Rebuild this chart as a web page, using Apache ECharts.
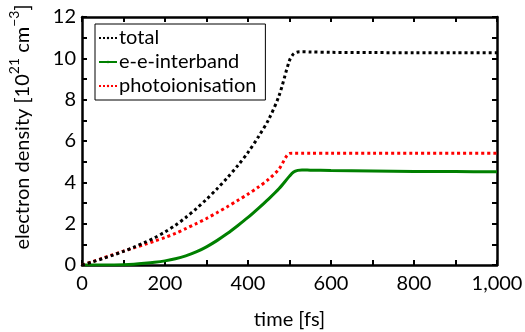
<!DOCTYPE html>
<html>
<head>
<meta charset="utf-8">
<script src="https://cdn.jsdelivr.net/npm/echarts@6/dist/echarts.min.js"></script>
<style>
  html, body { margin: 0; padding: 0; background: #fff; }
  #chart { width: 525px; height: 332px; }
</style>
</head>
<body>
<div id="chart"></div>
<script>
// Time samples in femtoseconds
const timeFs = [0, 25, 50, 75, 100, 125, 150, 175, 200, 225, 250, 275, 300, 325, 350, 375, 400, 425, 450, 475, 500, 510, 520, 530, 550, 600, 700, 800, 900, 1000];

// Electron densities in units of 1e21 cm^-3
const totalDensity = [0, 0.15, 0.31, 0.48, 0.66, 0.86, 1.08, 1.32, 1.6, 1.92, 2.3, 2.72, 3.18, 3.68, 4.22, 4.8, 5.45, 6.2, 7.05, 8.2, 9.9, 10.22, 10.31, 10.32, 10.31, 10.29, 10.28, 10.27, 10.27, 10.27];
const interbandDensity = [0, 0, 0, 0.005, 0.015, 0.04, 0.08, 0.13, 0.2, 0.3, 0.44, 0.63, 0.88, 1.18, 1.52, 1.9, 2.3, 2.74, 3.2, 3.7, 4.3, 4.5, 4.58, 4.6, 4.59, 4.57, 4.55, 4.53, 4.52, 4.51];
const photoDensity = [0, 0.16, 0.33, 0.5, 0.67, 0.83, 0.99, 1.16, 1.33, 1.53, 1.76, 2.0, 2.25, 2.53, 2.82, 3.12, 3.43, 3.77, 4.15, 4.65, 5.4, 5.41, 5.41, 5.41, 5.41, 5.41, 5.41, 5.41, 5.41, 5.41];

const seriesNames = ['total', 'e-e-interband', 'photoionisation'];
const xTicks = [0, 200, 400, 600, 800, 1000];
const yTicks = [0, 2, 4, 6, 8, 10, 12];

const FONT = 'Lato';
const FS = 20;
const pair = (ys) => timeFs.map((t, i) => [t, ys[i]]);

const frameAxis = {
  axisLine: { show: true, onZero: false, lineStyle: { color: '#000', width: 2.5 } },
  axisTick: { show: true, inside: true, length: 5, lineStyle: { color: '#000', width: 2 } },
  minorTick: { show: true, splitNumber: 2, length: 5, lineStyle: { color: '#000', width: 2 } },
  splitLine: { show: false },
  minorSplitLine: { show: false }
};

const chart = echarts.init(document.getElementById('chart'), null, { renderer: 'canvas' });

chart.setOption({
  animation: false,
  backgroundColor: '#fff',
  textStyle: { fontFamily: FONT },
  grid: { left: 82, right: 28, top: 17, bottom: 67, containLabel: false, outerBoundsMode: 'none' },
  legend: {
    data: seriesNames,
    orient: 'vertical',
    left: 95,
    top: 24,
    padding: [4, 9, 4, 3],
    itemGap: 4,
    itemWidth: 18,
    itemHeight: 3,
    borderColor: '#000',
    borderWidth: 1,
    borderRadius: 0,
    backgroundColor: '#fff',
    textStyle: { fontFamily: FONT, fontSize: FS, color: '#000', padding: [0, 0, 0, -3] }
  },
  xAxis: [
    Object.assign({}, frameAxis, {
      type: 'value', min: 0, max: 1000, interval: 200, position: 'bottom',
      axisLabel: { show: true, margin: 9, fontFamily: FONT, fontSize: FS, color: '#000',
        formatter: (v) => xTicks.includes(v) ? v.toLocaleString('en-US') : '' },
      name: 'time [fs]', nameLocation: 'middle', nameGap: 45,
      nameTextStyle: { fontFamily: FONT, fontSize: FS, color: '#000' }
    }),
    Object.assign({}, frameAxis, {
      type: 'value', min: 0, max: 1000, interval: 200, position: 'top',
      axisLabel: { show: false }
    })
  ],
  yAxis: [
    Object.assign({}, frameAxis, {
      type: 'value', min: 0, max: 12, interval: 2, position: 'left',
      axisLabel: { show: true, margin: 6, fontFamily: FONT, fontSize: FS, color: '#000',
        formatter: (v) => yTicks.includes(v) ? String(v) : '' }
    }),
    Object.assign({}, frameAxis, {
      type: 'value', min: 0, max: 12, interval: 2, position: 'right',
      axisLabel: { show: false }
    })
  ],
  graphic: [{
    type: 'text',
    x: 20,
    y: 127,
    rotation: Math.PI / 2,
    style: {
      text: '{n|electron density [10}{s|21}{n| cm}{s|−3}{n|]}',
      align: 'center',
      verticalAlign: 'middle',
      fill: '#000',
      rich: {
        n: { fontFamily: FONT, fontSize: FS, lineHeight: 26, verticalAlign: 'bottom', fill: '#000' },
        s: { fontFamily: FONT, fontSize: 14, lineHeight: 26, verticalAlign: 'top', fill: '#000' }
      }
    }
  }],
  series: [
    {
      name: 'total', type: 'line', xAxisIndex: 0, yAxisIndex: 0,
      data: pair(totalDensity), symbol: 'none', smooth: 0.3,
      lineStyle: { color: '#000', width: 3, type: 'dotted' },
      itemStyle: { color: '#000' }, z: 3
    },
    {
      name: 'e-e-interband', type: 'line', xAxisIndex: 0, yAxisIndex: 0,
      data: pair(interbandDensity), symbol: 'none', smooth: 0.3,
      lineStyle: { color: '#008000', width: 3, type: 'solid' },
      itemStyle: { color: '#008000' }, z: 2
    },
    {
      name: 'photoionisation', type: 'line', xAxisIndex: 0, yAxisIndex: 0,
      data: pair(photoDensity), symbol: 'none', smooth: 0.3,
      lineStyle: { color: '#ff0000', width: 3, type: 'dotted' },
      itemStyle: { color: '#ff0000' }, z: 2
    }
  ]
});
</script>
</body>
</html>
